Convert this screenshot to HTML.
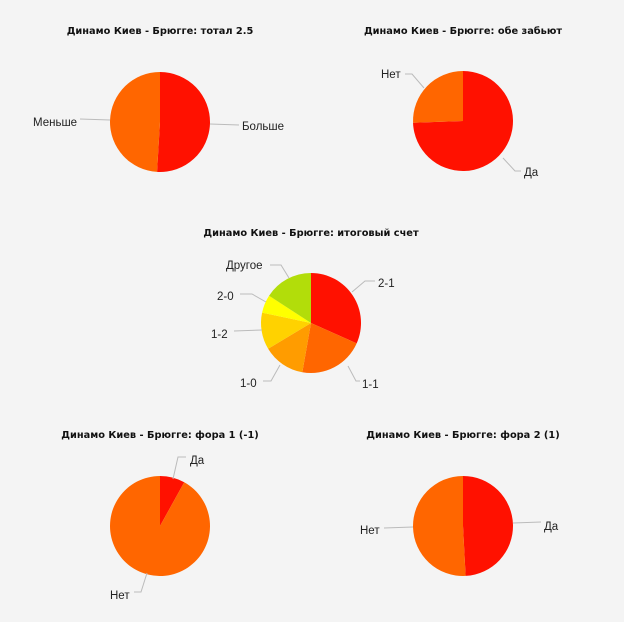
<!DOCTYPE html>
<html><head><meta charset="utf-8"><style>
body{margin:0;background:#f4f4f4;}
svg{display:block;font-family:"Liberation Sans","DejaVu Sans",sans-serif;}
.t{font-family:"DejaVu Sans",sans-serif;font-size:9.8px;font-weight:bold;fill:#111;text-anchor:middle}
.l{font-size:11.5px;fill:#222}
.ln{stroke:#bbb;fill:none;stroke-width:1}
</style></head><body>
<svg id="s" width="624" height="622" viewBox="0 0 624 622">
<rect width="624" height="622" fill="#f4f4f4"/>
<text class="t" x="160" y="34">Динамо Киев - Брюгге: тотал 2.5</text>
<text class="t" x="463" y="34">Динамо Киев - Брюгге: обе забьют</text>
<text class="t" x="311" y="236">Динамо Киев - Брюгге: итоговый счет</text>
<text class="t" x="160" y="438">Динамо Киев - Брюгге: фора 1 (-1)</text>
<text class="t" x="463" y="438">Динамо Киев - Брюгге: фора 2 (1)</text>
<g id="p"></g>
<path class="ln" d="M80,119 L110,120"/><text class="l" x="33" y="126">Меньше</text>
<path class="ln" d="M210,124 L239,125"/><text class="l" x="242" y="130">Больше</text>
<path class="ln" d="M405,74 L412,74 L424,88"/><text class="l" x="381" y="78">Нет</text>
<path class="ln" d="M503,158 L515,171 L521,171"/><text class="l" x="524" y="176">Да</text>
<path class="ln" d="M270,265 L281,265 L289,278"/><text class="l" x="226" y="269">Другое</text>
<path class="ln" d="M240,294 L252,294 L266,302"/><text class="l" x="217" y="300">2-0</text>
<path class="ln" d="M234,331 L262,330"/><text class="l" x="211" y="338">1-2</text>
<path class="ln" d="M263,381 L271,381 L280,365"/><text class="l" x="240" y="387">1-0</text>
<path class="ln" d="M348,366 L356,381 L360,381"/><text class="l" x="362" y="388">1-1</text>
<path class="ln" d="M352,292 L365,281 L375,281"/><text class="l" x="378" y="287">2-1</text>
<path class="ln" d="M173,479 L178,457 L186,457"/><text class="l" x="190" y="464">Да</text>
<path class="ln" d="M134,592 L141,592 L147,573"/><text class="l" x="110" y="599">Нет</text>
<path class="ln" d="M384,528 L413,527"/><text class="l" x="360" y="534">Нет</text>
<path class="ln" d="M513,523 L541,522"/><text class="l" x="544" y="530">Да</text>
</svg>
<script>
var g=document.getElementById('p'),h='';
function pie(cx,cy,r,sl){var a0=0;sl.forEach(function(s){var a1=s[0];
var x0=cx+r*Math.sin(a0*Math.PI/180),y0=cy-r*Math.cos(a0*Math.PI/180),
x1=cx+r*Math.sin(a1*Math.PI/180),y1=cy-r*Math.cos(a1*Math.PI/180);
h+='<path fill="'+s[1]+'" d="M'+cx+','+cy+' L'+x0+','+y0+' A'+r+','+r+' 0 '+((a1-a0)>180?1:0)+' 1 '+x1+','+y1+' Z"/>';a0=a1;});}
var R='#ff1100',O='#ff6600';
pie(160,122,50,[[183.4,R],[360,O]]);
pie(463,121,50,[[268,R],[360,O]]);
pie(311,323,50,[[114,R],[190,O],[239,'#ff9c00'],[282,'#ffd200'],[303,'#ffff00'],[360,'#b2dd0a']]);
pie(160,526,50,[[29,R],[360,O]]);
pie(463,526,50,[[177,R],[360,O]]);
g.innerHTML=h;
</script>
</body></html>
